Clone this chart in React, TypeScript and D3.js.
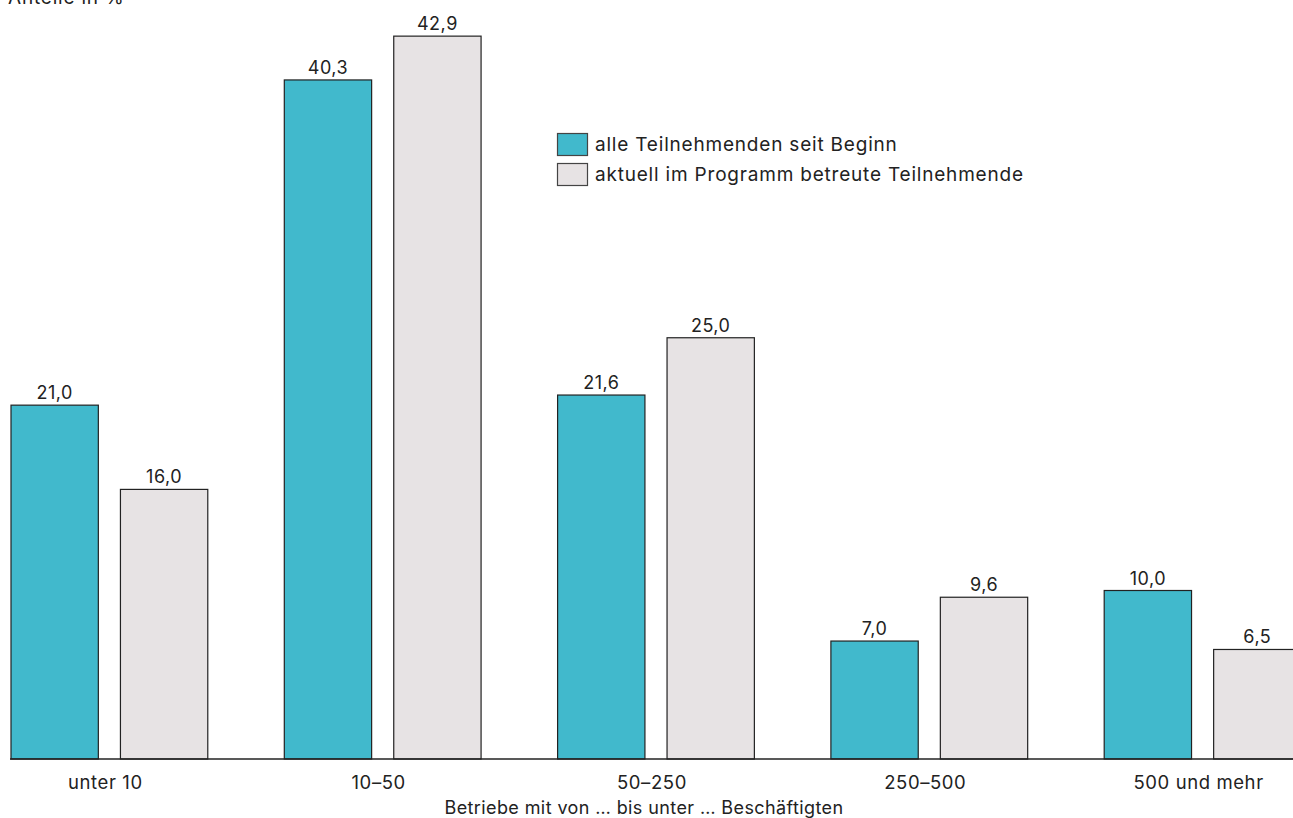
import React from "react";
import * as d3 from "d3";

const categories = ["unter 10", "10–50", "50–250", "250–500", "500 und mehr"];
const seriesNames = ["alle Teilnehmenden seit Beginn", "aktuell im Programm betreute Teilnehmende"];
const seriesAll = [21.0, 40.3, 21.6, 7.0, 10.0];
const seriesCurrent = [16.0, 42.9, 25.0, 9.6, 6.5];
const colors = ["#41b9cc", "#e7e3e4"];
const yTitle = "Anteile in %";
const xTitle = "Betriebe mit von … bis unter … Beschäftigten";

const W = 1293;
const H = 818;
const FONT = "Inter, 'Noto Sans', sans-serif";
const TEXT = "#222";

export default function App() {
  const baseY = 759;
  const x0 = d3
    .scaleBand<string>()
    .domain(categories)
    .range([11, 11 + 273.3 * (5 - 0.28)])
    .paddingInner(0.28)
    .paddingOuter(0);
  const x1 = d3
    .scaleBand<string>()
    .domain(seriesNames)
    .range([0, x0.bandwidth()])
    .paddingInner(0.202)
    .paddingOuter(0);
  const y = d3.scaleLinear().domain([0, 45]).range([baseY, baseY - 45 * 16.85]);
  const fmt = (v: number) => v.toFixed(1).replace(".", ",");
  const data = [seriesAll, seriesCurrent];

  return (
    <div style={{ position: "fixed", left: 0, top: 0 }}>
      <svg width={W} height={H} style={{ display: "block" }} fontFamily={FONT}>
        <rect width={W} height={H} fill="#fff" />
        <text x={8} y={4} fontSize={19} letterSpacing={0.8} fill={TEXT}>{yTitle}</text>
        {categories.map((c, i) => (
          <g key={c} transform={`translate(${x0(c)},0)`}>
            {seriesNames.map((s, j) => {
              const v = data[j][i];
              const bx = x1(s)!;
              const bw = x1.bandwidth();
              return (
                <g key={s}>
                  <rect
                    x={bx}
                    y={y(v)}
                    width={bw}
                    height={baseY - y(v)}
                    fill={colors[j]}
                    stroke="#222"
                    strokeWidth={1.2}
                  />
                  <text
                    x={bx + bw / 2}
                    y={y(v) - 6}
                    textAnchor="middle"
                    fontSize={18}
                    letterSpacing={0.5}
                    fill={TEXT}
                  >
                    {fmt(v)}
                  </text>
                </g>
              );
            })}
            <text
              x={x0.bandwidth() / 2 - 4}
              y={789}
              textAnchor="middle"
              fontSize={18.5}
              letterSpacing={0.6}
              fill={TEXT}
            >
              {c}
            </text>
          </g>
        ))}
        <line x1={10} x2={W} y1={baseY} y2={baseY} stroke="#222" strokeWidth={1.6} />
        <text x={644} y={814} textAnchor="middle" fontSize={18} letterSpacing={0.4} fill={TEXT}>{xTitle}</text>
        {seriesNames.map((s, j) => (
          <g key={s} transform={`translate(557,${133 + j * 30})`}>
            <rect x={0.5} y={0.5} width={30} height={22} fill={colors[j]} stroke="#444" strokeWidth={1.2} />
            <text x={38} y={18} fontSize={19} letterSpacing={0.8} fill={TEXT}>{s}</text>
          </g>
        ))}
      </svg>
    </div>
  );
}
